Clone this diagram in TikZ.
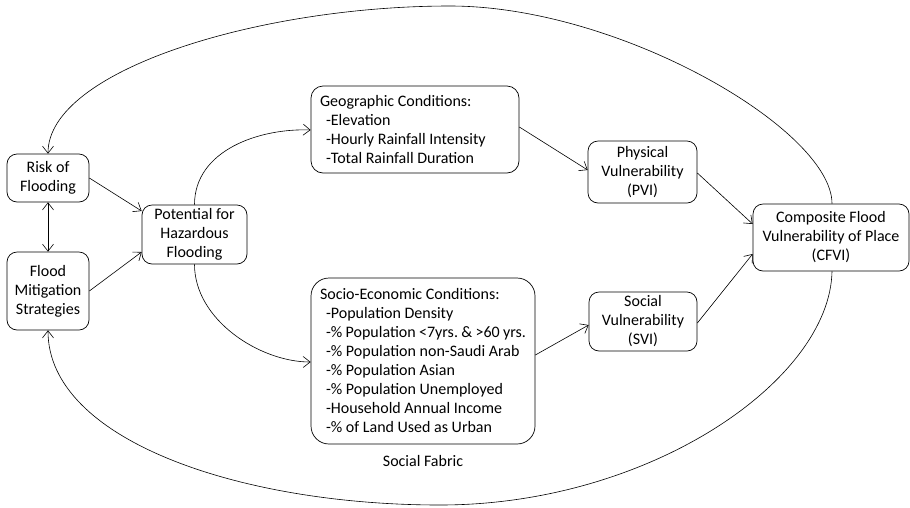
\documentclass[tikz,border=0pt]{standalone}
\usepackage{fontspec}
\setmainfont{Carlito}
\frenchspacing
\usetikzlibrary{arrows.meta,calc}
\begin{document}
\begin{tikzpicture}[x=1pt,y=-1pt,
  rbox/.style={draw, line width=0.7pt, rounded corners=10pt, align=center, inner sep=2pt,
    font=\fontsize{16}{19}\selectfont},
  lbox/.style={draw, line width=0.7pt, rounded corners=12pt, align=flush left, inner xsep=9pt, inner ysep=2pt,
    font=\fontsize{16}{19}\selectfont},
  conn/.style={line width=0.6pt, -{Straight Barb[length=7pt,width=11pt]}},
  lbl/.style={font=\fontsize{16}{19}\selectfont}]
\fill[white] (0,0) rectangle (910,507);
\useasboundingbox (0,0) rectangle (910,507);

\node[rbox, minimum width=82pt, minimum height=48pt] (risk) at (48,178) {Risk of\\Flooding};
\node[rbox, minimum width=82pt, minimum height=78pt] (mit) at (48,291) {Flood\\Mitigation\\Strategies};
\node[rbox, minimum width=105pt, minimum height=59pt] (pot) at (194.5,234.5) {Potential for\\Hazardous\\Flooding};
\node[lbox, text width=190pt, minimum height=87pt] (geo) at (415,129.5)
  {Geographic Conditions:\\
   \hspace*{6pt}-Elevation\\
   \hspace*{6pt}-Hourly Rainfall Intensity\\
   \hspace*{6pt}-Total Rainfall Duration};
\node[lbox, rounded corners=18pt, text width=206pt, minimum height=166pt] (soc) at (423,361)
  {Socio-Economic Conditions:\\
   \hspace*{6pt}-Population Density\\
   \hspace*{6pt}-\% Population <7yrs. \& >60 yrs.\\
   \hspace*{6pt}-\% Population non-Saudi Arab\\
   \hspace*{6pt}-\% Population Asian\\
   \hspace*{6pt}-\% Population Unemployed\\
   \hspace*{6pt}-Household Annual Income\\
   \hspace*{6pt}-\% of Land Used as Urban};
\node[lbl] (fabric) at (423,461) {Social Fabric};
\node[rbox, minimum width=109pt, minimum height=62pt] (phys) at (642.5,172) {Physical\\Vulnerability\\(PVI)};
\node[rbox, minimum width=108pt, minimum height=59pt] (svi) at (643,321.5) {Social\\Vulnerability\\(SVI)};
\node[rbox, minimum width=156pt, minimum height=67pt] (comp) at (831,237.5) {Composite Flood\\Vulnerability of Place\\(CFVI)};

\coordinate (topmid) at (450,6);
\coordinate (botmid) at (440,505);

% straight connectors
\draw[conn] (risk.east) -- ($(pot.west)+(0,-23.5)$);
\draw[conn] (mit.east) -- ($(pot.west)+(0,17.5)$);
\draw[conn, {Straight Barb[length=7pt,width=11pt]}-{Straight Barb[length=7pt,width=11pt]}] (risk.south) -- (mit.north);
\draw[conn] ($(geo.east)+(0,-2.5)$) -- ($(phys.west)+(0,-2)$);
\draw[conn] ($(phys.east)+(0,1)$) -- ($(comp.west)+(0,-13.5)$);
\draw[conn] ($(svi.east)+(0,1.5)$) -- ($(comp.west)+(0,16.5)$);
\draw[conn] ($(soc.east)+(0,-6)$) -- ($(svi.west)+(0,3.5)$);

% curved connectors from Potential
\draw[conn] (pot.north) .. controls (194.5,150) and (260,128) .. ($(geo.west)+(0,0.5)$);
\draw[conn] (pot.south) .. controls (194.5,320) and (260,362) .. ($(soc.west)+(0,1)$);

% big arcs
\draw[conn] ($(comp.north)+(1,0)$) .. controls (832,130) and (620,6) .. (topmid)
  .. controls (260,6) and (48,70) .. (risk.north);
\draw[conn] ($(comp.south)+(1,0)$) .. controls (830,380) and (650,505) .. (botmid)
  .. controls (240,505) and (48,440) .. (mit.south);
\end{tikzpicture}
\end{document}
